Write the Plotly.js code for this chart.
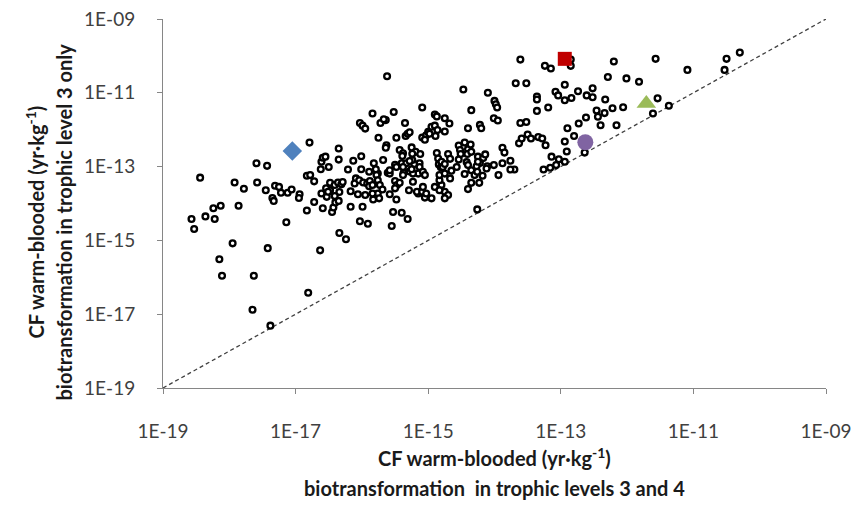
<!DOCTYPE html>
<html><head><meta charset="utf-8">
<script src="https://cdn.plot.ly/plotly-3.0.1.min.js"></script>
<style>body{margin:0;background:#fff}#chart{width:856px;height:510px}</style>
</head><body><div id="chart"></div>
<script>
// log10 of CF, biotransformation in trophic levels 3 and 4 (x)
const logCF34 = [
-18.44,-17.92,-17.78,-17.59,-17.43,-17.58,-17.45,-17.31,-17.25,-17.22,
-17.12,-17.06,-16.94,-16.79,-16.83,-16.78,-16.72,-16.61,-16.59,-16.55,
-16.62,-16.50,-16.35,-16.35,-16.13,-16.01,-16.03,-15.99,-15.95,-15.84,
-15.75,-15.72,-15.64,-17.35,-17.33,-17.86,-18.24,-18.13,-18.36,-18.57,
-18.53,-18.22,-17.14,-17.95,-17.42,-18.15,-18.11,-17.63,-17.65,-17.38,
-16.81,-16.63,-16.83,-16.72,-16.59,-16.45,-16.43,-16.40,-16.35,-16.34,
-16.24,-16.17,-15.99,-16.03,-15.91,-16.95,-16.61,-16.53,-16.48,-16.34,
-16.17,-16.06,-15.95,-15.83,-15.76,-16.21,-16.01,-15.89,-15.82,-15.76,
-15.61,-15.50,-15.40,-15.37,-15.28,-15.21,-15.15,-16.48,-16.41,-16.36,
-16.31,-16.29,-16.54,-16.09,-16.11,-16.04,-15.98,-15.92,-15.88,-15.89,
-15.84,-15.78,-15.76,-15.73,-15.69,-15.58,-15.50,-15.47,-15.43,-15.50,
-15.38,-15.29,-15.15,-16.51,-16.41,-15.84,-15.74,-15.58,-15.48,-15.53,
-15.40,-15.31,-15.55,-15.68,-15.43,-15.38,-15.25,-15.19,-15.24,-15.33,
-15.62,-14.47,-14.10,-13.61,-13.24,-13.15,-12.85,-12.85,-13.68,-13.52,
-12.94,-13.08,-13.04,-12.94,-12.84,-12.74,-12.61,-13.36,-13.36,-13.36,
-13.19,-15.09,-14.35,-14.00,-13.98,-13.96,-15.52,-15.67,-15.35,-14.90,
-14.87,-14.75,-14.68,-14.01,-13.95,-13.61,-13.52,-14.40,-14.22,-14.20,
-12.90,-12.73,-12.62,-15.48,-15.34,-15.31,-15.09,-15.03,-15.00,-14.95,
-14.90,-14.86,-14.75,-15.63,-15.64,-15.39,-15.24,-15.12,-15.79,-15.58,
-15.48,-15.38,-15.13,-14.87,-14.85,-14.70,-14.84,-14.81,-14.54,-14.52,
-14.45,-14.40,-14.41,-14.51,-14.36,-13.88,-13.85,-14.25,-14.17,-14.14,
-14.22,-14.11,-14.01,-13.88,-13.76,-13.70,-13.63,-13.59,-13.50,-13.45,
-13.34,-13.28,-13.23,-13.14,-13.03,-13.26,-13.16,-12.94,-12.91,-12.80,
-12.64,-12.20,-11.57,-11.09,-10.50,-10.30,-10.53,-12.29,-12.01,-11.82,
-12.52,-12.52,-12.33,-11.54,-12.46,-12.34,-12.22,-12.06,-12.44,-12.40,
-12.16,-11.37,-11.61,-14.98,-14.89,-15.05,-15.28,-14.35,-14.80,-14.67,
-14.54,-14.42,-14.27,-13.07,-12.94,-15.28,-15.13,-15.08,-15.23,-15.25,
-15.05,-15.23,-14.90,-14.80,-14.83,-14.83,-14.75,-14.78,-14.65,-14.67,
-14.75,-15.17,-15.09,-15.05,-14.95,-15.08,-15.03,-14.75,-14.70,-14.75,
-14.83,-14.57,-14.45,-14.40,-14.35,-14.30,-14.26,-14.18,-14.25,-14.12,
-13.94,-13.76,-14.35,-14.23,-14.40,-14.26
];
// log10 of CF, biotransformation in trophic level 3 only (y)
const logCF3 = [
-13.30,-13.43,-13.60,-12.91,-12.98,-13.43,-13.64,-13.52,-13.55,-13.71,
-13.71,-13.62,-13.75,-12.35,-13.25,-13.23,-13.40,-12.87,-12.76,-12.73,
-13.07,-13.01,-12.51,-12.81,-12.84,-12.72,-11.82,-11.89,-11.97,-11.56,
-12.22,-11.82,-11.74,-13.85,-13.93,-14.06,-14.13,-14.06,-14.35,-14.42,
-14.69,-14.42,-14.51,-15.08,-15.21,-15.51,-15.96,-15.96,-16.88,-17.31,
-16.42,-15.27,-14.19,-13.96,-14.13,-14.23,-14.11,-13.97,-13.93,-14.80,
-14.97,-14.09,-14.09,-14.48,-14.55,-13.85,-13.73,-13.82,-13.64,-13.69,
-13.67,-13.75,-13.77,-13.89,-13.73,-13.08,-13.07,-13.14,-12.91,-13.19,
-13.17,-12.95,-12.91,-13.17,-13.13,-12.93,-13.19,-13.44,-13.50,-13.43,
-13.48,-13.42,-13.59,-13.32,-13.46,-13.37,-13.43,-13.46,-13.39,-13.53,
-13.50,-13.23,-13.37,-13.50,-13.62,-13.19,-13.39,-13.50,-13.44,-13.59,
-13.23,-13.64,-13.73,-13.68,-13.80,-13.73,-13.86,-13.75,-13.89,-14.23,
-14.25,-14.42,-14.61,-12.82,-12.55,-12.64,-12.48,-12.60,-12.82,-12.91,
-10.55,-10.91,-11.00,-10.10,-10.27,-10.34,-10.10,-10.27,-10.74,-10.74,
-10.78,-10.97,-11.07,-11.20,-11.14,-10.96,-11.07,-11.10,-11.18,-11.49,
-11.40,-11.40,-11.47,-11.22,-11.31,-11.40,-11.52,-11.72,-11.82,-11.59,
-11.64,-11.69,-11.83,-11.69,-11.75,-11.82,-11.79,-11.96,-11.87,-11.96,
-11.96,-11.83,-11.67,-12.22,-12.17,-12.11,-12.21,-12.15,-12.06,-11.92,
-11.89,-12.01,-12.05,-12.42,-12.49,-12.71,-12.65,-12.66,-13.07,-13.10,
-13.01,-13.01,-12.91,-12.63,-12.78,-12.66,-12.94,-13.02,-12.43,-12.55,
-12.35,-12.53,-12.66,-12.66,-12.40,-12.49,-12.62,-12.73,-12.77,-12.67,
-12.90,-12.99,-12.96,-12.91,-12.84,-13.08,-12.37,-12.24,-12.13,-12.24,
-12.20,-12.24,-12.42,-12.73,-12.80,-13.08,-13.03,-12.32,-12.59,-12.17,
-12.62,-10.15,-10.08,-10.38,-10.08,-9.91,-10.38,-10.57,-10.61,-10.70,
-10.88,-11.12,-11.18,-11.15,-11.48,-11.55,-11.42,-11.39,-11.65,-11.88,
-11.88,-11.35,-11.56,-12.11,-12.17,-12.27,-12.07,-12.60,-12.87,-12.79,
-12.81,-12.88,-12.99,-12.96,-12.87,-12.85,-13.01,-13.14,-13.19,-13.07,
-13.23,-13.41,-13.55,-13.50,-13.37,-13.23,-13.19,-13.01,-13.11,-13.32,
-12.93,-13.68,-13.68,-13.84,-13.86,-13.55,-13.73,-13.68,-13.77,-13.86,
-13.64,-13.01,-13.20,-12.96,-13.10,-13.23,-13.14,-13.25,-12.87,-13.05,
-13.23,-13.08,-13.44,-13.44,-13.61,-14.16
];
// highlighted substances (log10 values)
const hlLogX = [-17.05, -12.94, -11.71, -12.63];
const hlLogY = [-12.58, -10.08, -11.29, -12.34];
const hlSymbols = ['diamond', 'square', 'triangle-up', 'circle'];
const hlColors = ['#4f81bd', '#c00000', '#9bbb59', '#8064a2'];
const hlSizes = [15, 14, 17, 16];
// 1:1 reference line
const oneToOne = [1e-19, 1e-9];
const tickVals = [1e-19, 1e-17, 1e-15, 1e-13, 1e-11, 1e-9];
const tickText = ['1E-19', '1E-17', '1E-15', '1E-13', '1E-11', '1E-09'];

const pow10 = a => a.map(v => Math.pow(10, v));

const traces = [
  {x: oneToOne, y: oneToOne, mode: 'lines', type: 'scatter',
   line: {color: '#404040', width: 1.3, dash: '4px,3px'}, hoverinfo: 'skip'},
  {x: pow10(logCF34), y: pow10(logCF3), mode: 'markers', type: 'scatter',
   marker: {symbol: 'circle', size: 5.8, color: '#ffffff', line: {color: '#000000', width: 2.3}}}
];
for (let i = 0; i < hlLogX.length; i++) {
  traces.push({x: [Math.pow(10, hlLogX[i])], y: [Math.pow(10, hlLogY[i])], mode: 'markers', type: 'scatter',
    marker: {symbol: hlSymbols[i], size: hlSizes[i], color: hlColors[i], line: {width: 0}}});
}

const axisCommon = {
  type: 'log', range: [-19, -9], showgrid: false, zeroline: false,
  showline: true, linecolor: '#868686', linewidth: 1,
  ticks: 'outside', ticklen: 5, tickcolor: '#868686', tickwidth: 1,
  tickvals: tickVals, ticktext: tickText,
  tickfont: {family: 'Lato', size: 19, color: '#404040'}
};
const titleFont = {family: 'Lato', size: 20, color: '#1a1a1a'};

const layout = {
  width: 856, height: 510,
  margin: {l: 163, r: 30, t: 19, b: 122},
  paper_bgcolor: '#ffffff', plot_bgcolor: '#ffffff',
  showlegend: false,
  xaxis: Object.assign({}, axisCommon, {ticklabelstandoff: 21}),
  yaxis: Object.assign({}, axisCommon, {ticklabelstandoff: 18}),
  annotations: [
    {xref: 'paper', yref: 'paper', x: 0.5, y: 0, xanchor: 'center', yanchor: 'middle', yshift: -69,
     text: '<b>CF warm-blooded (yr·kg<sup>-1</sup>)</b>', showarrow: false, font: titleFont},
    {xref: 'paper', yref: 'paper', x: 0.5, y: 0, xanchor: 'center', yanchor: 'middle', yshift: -100,
     text: '<b>biotransformation  in trophic levels 3 and 4</b>', showarrow: false, font: titleFont},
    {xref: 'paper', yref: 'paper', x: 0, y: 0.5, xanchor: 'center', yanchor: 'middle', xshift: -129, yshift: -19,
     textangle: -90, text: '<b>CF warm-blooded (yr·kg<sup>-1</sup>)</b>', showarrow: false, font: titleFont},
    {xref: 'paper', yref: 'paper', x: 0, y: 0.5, xanchor: 'center', yanchor: 'middle', xshift: -100, yshift: -19,
     textangle: -90, text: '<b>biotransformation in trophic level 3 only</b>', showarrow: false, font: titleFont}
  ]
};

Plotly.newPlot('chart', traces, layout, {displayModeBar: false, staticPlot: true});
</script>
</body></html>
